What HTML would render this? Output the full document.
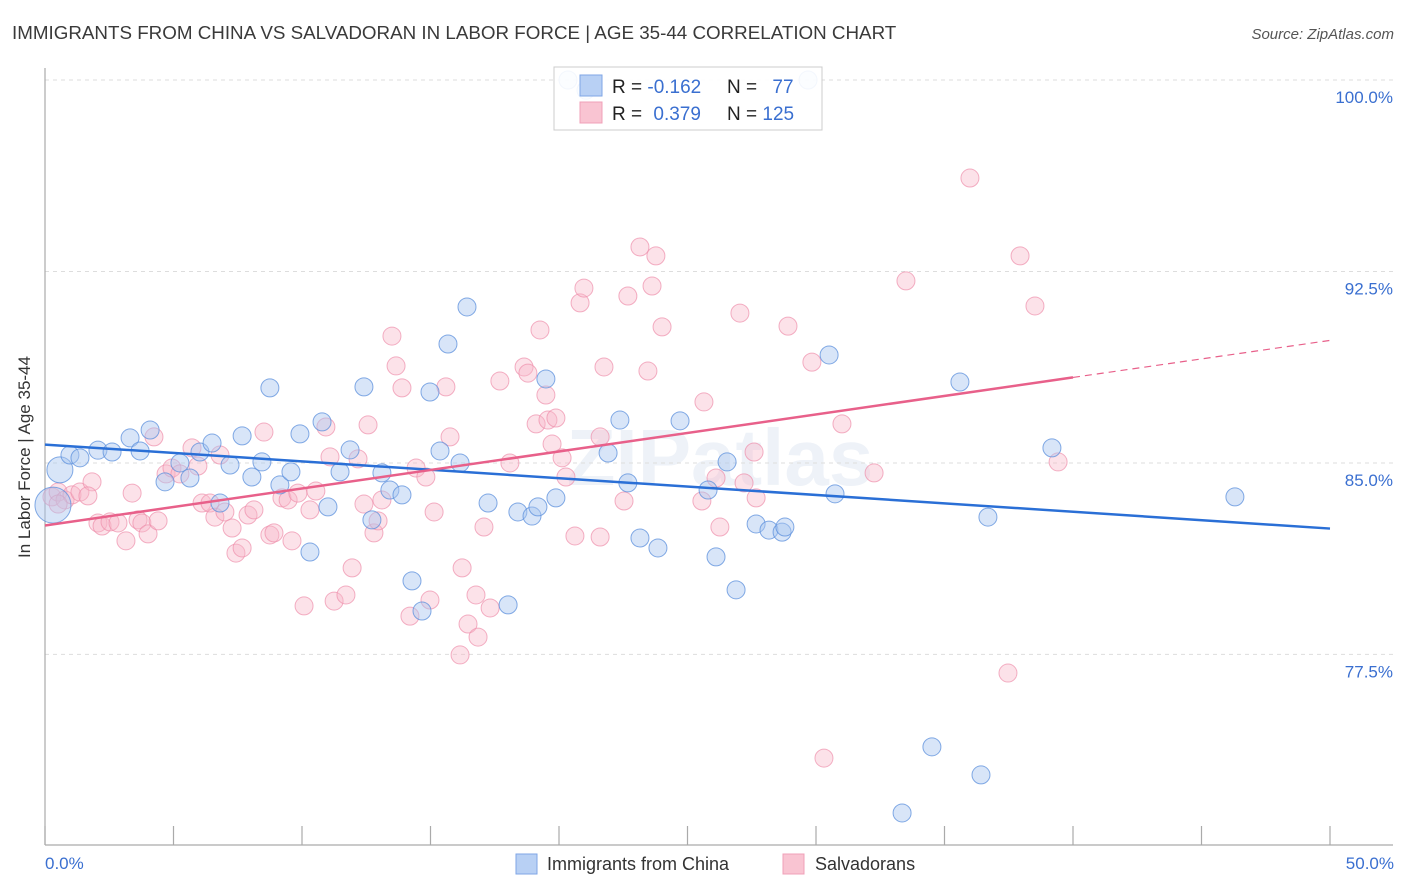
<!DOCTYPE html>
<html><head><meta charset="utf-8"><style>
body{margin:0;background:#fff;font-family:"Liberation Sans",sans-serif}
svg{display:block}
</style></head><body>
<svg id="chart" width="1406" height="892">
<text x="12" y="39" font-size="18.8" fill="#3a3a3a">IMMIGRANTS FROM CHINA VS SALVADORAN IN LABOR FORCE | AGE 35-44 CORRELATION CHART</text>
<text x="1394" y="39" font-size="15" fill="#555" font-style="italic" text-anchor="end">Source: ZipAtlas.com</text>
<text x="720" y="485" font-size="80" fill="#eef2f8" text-anchor="middle" font-weight="bold">ZIPatlas</text>
<g id="grid"></g>
<line x1="45" y1="68" x2="45" y2="845" stroke="#aaa" stroke-width="1.2"/>
<line x1="45" y1="845" x2="1393" y2="845" stroke="#aaa" stroke-width="1.2"/>
<g id="xticks"></g>
<g id="points"></g>
<g id="trends"></g>
<text x="30" y="457" font-size="17" fill="#333" text-anchor="middle" transform="rotate(-90 30 457)">In Labor Force | Age 35-44</text>
<text x="45" y="869" font-size="17" fill="#3a6fd0">0.0%</text>
<text x="1394" y="869" font-size="17" fill="#3a6fd0" text-anchor="end">50.0%</text>
<g>
<rect x="554" y="67" width="268" height="63" fill="#fff" fill-opacity="0.9" stroke="#ccc"/>
<rect x="580" y="75" width="22" height="21" fill="#b8d0f4" stroke="#7fa6e6"/>
<rect x="580" y="102" width="22" height="21" fill="#f9c4d2" stroke="#f0a0b8"/>
<text x="612" y="93" font-size="19" fill="#222">R = <tspan fill="#3a6fd0">-0.162</tspan></text>
<text x="727" y="93" font-size="19" fill="#222">N = <tspan fill="#3a6fd0" dx="10">77</tspan></text>
<text x="612" y="120" font-size="19" fill="#222">R = <tspan fill="#3a6fd0" dx="6">0.379</tspan></text>
<text x="727" y="120" font-size="19" fill="#222">N = <tspan fill="#3a6fd0">125</tspan></text>
</g>
<g>
<rect x="516" y="854" width="21" height="20" fill="#b8d0f4" stroke="#7fa6e6"/>
<text x="547" y="870" font-size="18" fill="#333">Immigrants from China</text>
<rect x="783" y="854" width="21" height="20" fill="#f9c4d2" stroke="#f0a0b8"/>
<text x="815" y="870" font-size="18" fill="#333">Salvadorans</text>
</g>
</svg>
<script>
const yTicks=[100,92.5,85,77.5];
const yTickLabels=["100.0%","92.5%","85.0%","77.5%"];
const xTicks=[0,5,10,15,20,25,30,35,40,45,50];
const chinaX=[0.58,0.97,1.36,2.06,2.61,3.31,3.70,4.09,4.67,5.25,5.64,6.03,6.50,6.81,7.20,7.67,8.05,8.44,8.75,9.14,9.57,9.92,10.31,10.78,11.01,11.48,11.87,12.41,12.72,13.11,13.42,13.89,14.28,14.67,14.98,15.37,15.68,16.15,16.42,17.24,18.02,18.40,18.95,19.18,19.49,19.88,20.35,21.05,21.91,22.37,22.68,23.15,23.85,24.71,25.80,26.11,26.54,26.89,27.67,28.17,28.68,28.79,29.69,30.51,30.74,33.35,34.51,35.60,36.42,36.69,39.18,46.30,0.31];
const chinaY=[84.73,85.31,85.2,85.5,85.43,85.98,85.47,86.29,84.26,85.0,84.41,85.43,85.78,83.43,84.92,86.06,84.45,85.04,87.94,84.14,84.65,86.14,81.51,86.61,83.28,84.65,85.51,87.98,82.77,84.61,83.94,83.75,80.38,79.2,87.78,85.47,89.66,85.0,91.11,83.43,79.44,83.08,82.92,83.28,88.29,83.63,100.0,99.6,85.39,86.68,84.22,82.06,81.67,86.65,83.94,81.32,85.04,80.03,82.61,82.37,82.29,82.49,100.0,89.23,83.79,71.29,73.88,88.17,72.78,82.88,85.59,83.67,83.35];
const chinaSize=[13,9,9,9,9,9,9,9,9,9,9,9,9,9,9,9,9,9,9,9,9,9,9,9,9,9,9,9,9,9,9,9,9,9,9,9,9,9,9,9,9,9,9,9,9,9,9,9,9,9,9,9,9,9,9,9,9,9,9,9,9,9,9,9,9,9,9,9,9,9,9,9,18];
const salvX=[0.27,0.51,0.78,1.05,1.36,1.83,2.06,2.22,2.53,2.84,3.15,3.39,3.62,3.77,4.01,4.24,4.40,4.71,4.94,5.25,5.72,5.95,6.11,6.42,6.61,6.81,7.00,7.28,7.43,7.67,7.90,8.13,8.52,8.75,8.91,9.22,9.46,9.61,9.84,10.08,10.31,10.54,10.93,11.09,11.25,11.71,11.95,12.18,12.41,12.57,12.80,12.96,13.11,13.50,13.66,13.89,14.20,14.44,14.82,14.98,15.14,15.60,15.76,16.15,16.23,16.46,16.77,16.85,17.08,17.32,17.70,18.09,18.64,18.79,19.11,19.26,19.49,19.57,19.73,19.88,20.12,20.27,20.62,20.82,20.97,21.60,21.75,21.60,22.53,22.68,23.15,23.46,23.62,23.77,24.01,25.56,25.64,26.11,26.26,27.04,27.20,27.59,27.67,28.91,29.84,30.31,31.01,32.26,33.5,35.99,37.47,37.94,38.52,39.42,0.51,1.67];
const salvY=[83.67,83.86,83.55,83.75,83.86,84.26,82.65,82.53,82.69,82.65,81.95,83.82,82.77,82.65,82.22,86.02,82.73,84.57,84.8,84.57,85.59,84.88,83.43,83.43,82.88,85.31,83.08,82.45,81.47,81.67,82.96,83.16,86.21,82.18,82.26,83.63,83.55,81.95,83.82,79.4,83.16,83.9,86.41,85.24,79.59,79.83,80.89,85.16,83.39,86.49,82.26,82.73,83.55,89.97,88.8,87.94,79.0,84.8,84.45,79.63,83.08,87.98,86.02,77.48,80.89,78.69,79.83,78.18,82.49,79.32,88.21,85.0,88.76,88.52,86.53,90.21,87.66,86.68,85.74,86.76,85.2,84.45,82.14,91.27,91.85,82.1,88.76,86.02,83.51,91.54,93.46,88.6,91.93,93.11,90.33,83.51,87.39,84.41,82.49,90.87,84.22,85.43,83.63,90.36,88.95,73.44,86.53,84.61,92.13,96.16,76.77,93.11,91.15,85.04,83.39,83.71];
const chinaTrend=[85.72,82.43];
const salvTrend=[82.55,88.35,89.8];
const NS="http://www.w3.org/2000/svg";
const xs=v=>45+v*25.7;
const ys=v=>80+(100-v)*25.53;
function mk(tag,attrs,parent){const e=document.createElementNS(NS,tag);for(const k in attrs)e.setAttribute(k,attrs[k]);parent.appendChild(e);return e;}
const grid=document.getElementById('grid');
yTicks.forEach((t,i)=>{
  const l=mk('line',{x1:45,x2:1393,y1:ys(t),y2:ys(t),stroke:'#ddd','stroke-dasharray':'4,4'},grid);
  
  
  const tx=mk('text',{x:1393,y:ys(t)+23,'font-size':17,fill:'#3a6fd0','text-anchor':'end'},grid);
  tx.textContent=yTickLabels[i];
  
  
});
const xt=document.getElementById('xticks');
xTicks.forEach(t=>{
  const l=mk('line',{x1:xs(t),x2:xs(t),y1:826,y2:845,stroke:'#aaa','stroke-width':1.2},xt);
  
  
});
const pts=document.getElementById('points');
salvX.forEach((x,i)=>{
  const c=mk('circle',{cx:xs(x),cy:ys(salvY[i]),r:9,fill:'#f7b6c8','fill-opacity':0.4,stroke:'#ee8fab','stroke-opacity':0.7,'stroke-width':1},pts);
  
  
});
chinaX.forEach((x,i)=>{
  const c=mk('circle',{cx:xs(x),cy:ys(chinaY[i]),r:chinaSize[i],fill:'#a9c6f0','fill-opacity':0.45,stroke:'#5b8fdc','stroke-opacity':0.75,'stroke-width':1},pts);
  
  
});
const tr=document.getElementById('trends');
let l1=mk('line',{x1:xs(0),y1:ys(chinaTrend[0]),x2:xs(50),y2:ys(chinaTrend[1]),stroke:'#2a6fd6','stroke-width':2.5},tr);


let l2=mk('line',{x1:xs(0),y1:ys(salvTrend[0]),x2:xs(40),y2:ys(salvTrend[1]),stroke:'#e8608a','stroke-width':2.5},tr);


let l3=mk('line',{x1:xs(40),y1:ys(salvTrend[1]),x2:xs(50),y2:ys(salvTrend[2]),stroke:'#e8608a','stroke-width':1.2,'stroke-dasharray':'7,5'},tr);


</script>
</body></html>
